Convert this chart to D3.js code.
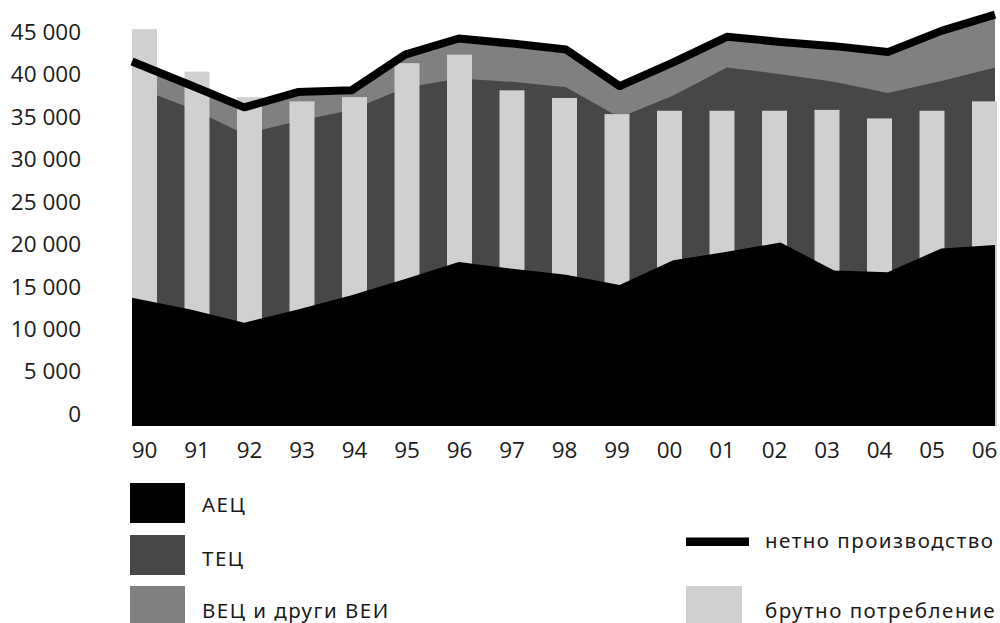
<!DOCTYPE html>
<html lang="bg">
<head>
<meta charset="UTF-8">
<script src="https://cdn.jsdelivr.net/npm/d3@7"></script>
<title>Производство и потребление на електроенергия</title>
<style>
    body {
        margin: 0;
        background: #fff;
    }
    svg text {
        font-family: "Open Sans", "Noto Sans", sans-serif;
        fill: #1a1a1a;
    }
    svg text.leg {
        font-family: "Noto Sans", "Open Sans", sans-serif;
        letter-spacing: 1.5px;
    }
</style>
</head>
<body>
<svg id="chart" width="1000" height="623" lang="bg"></svg>
<script>
    // years on the x axis
    const years = ["90", "91", "92", "93", "94", "95", "96", "97", "98", "99",
                   "00", "01", "02", "03", "04", "05", "06"];
    // production by source, GWh (stacked areas)
    const aec = [13700, 12300, 10750, 12300, 14000, 15900, 17900, 17100, 16400,
                 15200, 18100, 19100, 20200, 16900, 16700, 19500, 19900];
    const tec = [24950, 23700, 22200, 22200, 21800, 22500, 21600, 22000, 22050,
                 19700, 19400, 21700, 19800, 22200, 21100, 19700, 20900];
    const vec = [2450, 2300, 2750, 3000, 1900, 3500, 4300, 4100, 4050,
                 3300, 3500, 3200, 3400, 3800, 4400, 5500, 5800];
    // net production (line) and gross consumption (bars)
    const netProd = [41500, 38700, 36100, 37900, 38100, 42300, 44200, 43600, 42900,
                     38600, 41400, 44400, 43800, 43300, 42600, 45100, 47000];
    const grossCons = [45300, 40300, 37300, 36800, 37300, 41300, 42300, 38100, 37200,
                       35300, 35700, 35700, 35700, 35800, 34800, 35700, 36800];
    const yTicks = [0, 5000, 10000, 15000, 20000, 25000, 30000, 35000, 40000, 45000];

    const svg = d3.select("#chart");
    const plotLeft = 132;
    const plotBottom = 426;

    const rows = years.map((yr, i) => ({
        year: yr, aec: aec[i], tec: tec[i], vec: vec[i],
        net: netProd[i], gross: grossCons[i]
    }));

    // value axis (the baseline sits a little below zero, as in the picture)
    const y = d3.scaleLinear()
        .domain([-1400, 45000])
        .range([plotBottom, 31.7]);
    const base = y(y.domain()[0]);

    // bars and areas sit on slightly different x positions
    const xBar = d3.scalePoint().domain(years).range([144.5, 984.5]);
    const barW = xBar.step() * 0.476;
    const xArea = d3.scalePoint().domain(years).range([137, 995]);

    const stack = d3.stack().keys(["aec", "tec", "vec"]);
    const layers = stack(rows);

    // first point is carried to the left edge of the plot
    const ax = (d, i) => i === 0 ? plotLeft : xArea(d.data.year);
    const area = d3.area()
        .x(ax)
        .y0(base)
        .y1(d => y(d[1]));

    const fills = {aec: "#000000", tec: "#474747", vec: "#808080"};

    // ВЕЦ and ТЕЦ behind the bars
    svg.append("g").selectAll("path")
        .data([layers[2], layers[1]])
        .enter()
        .append("path")
        .attr("d", area)
        .attr("fill", d => fills[d.key]);

    // gross consumption bars
    svg.append("g").selectAll("rect")
        .data(rows)
        .enter()
        .append("rect")
        .attr("x", d => xBar(d.year) - barW / 2)
        .attr("width", barW)
        .attr("y", d => y(d.gross))
        .attr("height", d => base - y(d.gross))
        .attr("fill", "#d0d0d0");

    // АЕЦ in front of the bars
    svg.append("path")
        .datum(layers[0])
        .attr("d", area)
        .attr("fill", fills.aec);

    // net production line
    const line = d3.line()
        .x((d, i) => i === 0 ? plotLeft : xArea(d.year))
        .y(d => y(d.net));
    svg.append("path")
        .datum(rows)
        .attr("d", line)
        .attr("fill", "none")
        .attr("stroke", "#000")
        .attr("stroke-width", 8)
        .attr("stroke-linejoin", "round");

    // y axis labels
    const fmt = v => v === 0 ? "0" : d3.format(",")(v).replace(",", " ");
    svg.append("g").selectAll("text")
        .data(yTicks)
        .enter()
        .append("text")
        .attr("x", 81)
        .attr("y", d => y(d))
        .attr("dy", "0.35em")
        .attr("text-anchor", "end")
        .style("font-size", "22.5px")
        .text(fmt);

    // x axis labels
    svg.append("g").selectAll("text")
        .data(years)
        .enter()
        .append("text")
        .attr("x", d => xBar(d))
        .attr("y", 450)
        .attr("dy", "0.35em")
        .attr("text-anchor", "middle")
        .style("font-size", "22.5px")
        .text(d => d);

    // legend, left column
    const legLeft = [
        {label: "АЕЦ", color: fills.aec, y: 483},
        {label: "ТЕЦ", color: fills.tec, y: 535},
        {label: "ВЕЦ и други ВЕИ", color: fills.vec, y: 586}
    ];
    const lg = svg.append("g");
    lg.selectAll("rect")
        .data(legLeft)
        .enter()
        .append("rect")
        .attr("x", 130)
        .attr("y", d => d.y)
        .attr("width", 55)
        .attr("height", 40)
        .attr("fill", d => d.color);
    lg.selectAll("text")
        .data(legLeft)
        .enter()
        .append("text")
        .attr("class", "leg")
        .attr("x", 202)
        .attr("y", (d, i) => d.y + 22 + i * 1.5)
        .attr("dy", "0.35em")
        .style("font-size", "20.5px")
        .text(d => d.label);

    // legend, right column
    svg.append("rect")
        .attr("x", 686).attr("y", 537.5)
        .attr("width", 63).attr("height", 8.5)
        .attr("fill", "#000");
    svg.append("text")
        .attr("class", "leg")
        .attr("x", 765).attr("y", 541)
        .attr("dy", "0.35em")
        .style("font-size", "20.5px")
        .text("нетно производство");
    svg.append("rect")
        .attr("x", 686).attr("y", 586)
        .attr("width", 56).attr("height", 40)
        .attr("fill", "#d0d0d0");
    svg.append("text")
        .attr("class", "leg")
        .attr("x", 765).attr("y", 610.5)
        .attr("dy", "0.35em")
        .style("font-size", "20.5px")
        .text("брутно потребление");
</script>
</body>
</html>
